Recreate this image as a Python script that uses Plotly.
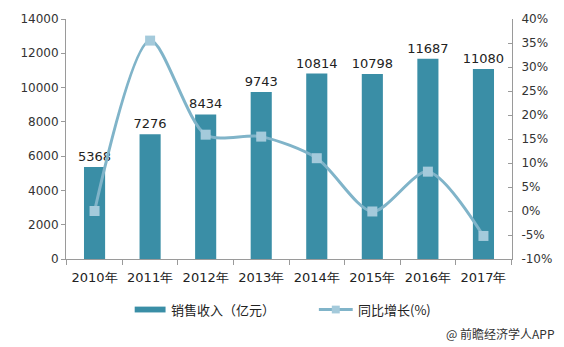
import plotly.graph_objects as go

years = ["2010年", "2011年", "2012年", "2013年", "2014年", "2015年", "2016年", "2017年"]
revenue = [5368, 7276, 8434, 9743, 10814, 10798, 11687, 11080]
growth = [0.0, 35.5, 15.9, 15.5, 11.0, -0.1, 8.2, -5.2]

left_ticks = [0, 2000, 4000, 6000, 8000, 10000, 12000, 14000]
right_ticks = [-10, -5, 0, 5, 10, 15, 20, 25, 30, 35, 40]

bar_name = "销售收入（亿元）"
line_name = "同比增长(%)"
source_note = "@ 前瞻经济学人APP"

num_font = "DejaVu Sans, Verdana, sans-serif"
cjk_font = "Noto Sans CJK SC, sans-serif"
bar_color = "#3a8ea6"
line_color = "#80b4c9"
marker_color = "#a4cadb"
axis_color = "#9a9a9a"

W, H = 564, 347
L, R, T, B = 66, 50, 12, 88
pw, ph = W - L - R, H - T - B


def px(x):
    return (x - L) / pw


def py(y):
    return (H - B - y) / ph


fig = go.Figure()
fig.add_trace(go.Bar(
    x=years, y=revenue, name=bar_name,
    marker=dict(color=bar_color, line=dict(width=0)),
    width=0.38,
    text=[str(v) for v in revenue], textposition="outside",
    constraintext="none",
    textfont=dict(family=num_font, size=13, color="#222222"),
    cliponaxis=False, showlegend=False,
))
fig.add_trace(go.Scatter(
    x=years, y=growth, name=line_name, yaxis="y2",
    mode="lines+markers",
    line=dict(color=line_color, width=3, shape="spline", smoothing=0.8),
    marker=dict(symbol="square", size=10, color=marker_color),
    showlegend=False,
))

shapes = [
    dict(type="rect", xref="paper", yref="paper", x0=px(135), x1=px(166), y0=py(314), y1=py(308),
         fillcolor=bar_color, line=dict(width=0)),
    dict(type="line", xref="paper", yref="paper", x0=px(320), x1=px(354), y0=py(311), y1=py(311),
         line=dict(color=line_color, width=3)),
    dict(type="rect", xref="paper", yref="paper", x0=px(333), x1=px(341), y0=py(315), y1=py(307),
         fillcolor=marker_color, line=dict(width=0)),
]

annotations = [
    dict(text=bar_name, xref="paper", yref="paper", x=px(169), y=py(311),
         xanchor="left", yanchor="middle", showarrow=False,
         font=dict(family=cjk_font, size=13, color="#222222")),
    dict(text=line_name, xref="paper", yref="paper", x=px(357), y=py(311),
         xanchor="left", yanchor="middle", showarrow=False,
         font=dict(family=cjk_font, size=13, color="#222222")),
    dict(text=source_note, xref="paper", yref="paper", x=px(559), y=py(336),
         xanchor="right", yanchor="middle", showarrow=False,
         font=dict(family=cjk_font, size=12, color="#333333")),
]

fig.update_layout(
    width=W, height=H,
    margin=dict(l=L, r=R, t=T, b=B),
    paper_bgcolor="white", plot_bgcolor="white",
    font=dict(family=cjk_font, size=12, color="#333333"),
    showlegend=False,
    xaxis=dict(
        type="category", showgrid=False, showline=True, linecolor=axis_color, linewidth=1,
        ticks="outside", tickson="boundaries", ticklen=5, tickcolor=axis_color,
        ticklabelstandoff=6,
        tickfont=dict(family=num_font, size=13, color="#222222"),
    ),
    yaxis=dict(
        range=[0, 14000], tickvals=left_ticks, ticktext=[str(v) for v in left_ticks],
        showgrid=False, showline=True, linecolor=axis_color, linewidth=1,
        ticks="outside", ticklen=4, tickcolor=axis_color,
        tickfont=dict(family=num_font, size=12, color="#333333"), zeroline=False,
    ),
    yaxis2=dict(
        range=[-10, 40], tickvals=right_ticks, ticktext=[f"{v}%" for v in right_ticks],
        overlaying="y", side="right", showgrid=False, showline=True,
        linecolor=axis_color, linewidth=1, ticks="inside", ticklen=4, tickcolor=axis_color,
        ticklabelstandoff=6,
        tickfont=dict(family=num_font, size=12, color="#333333"), zeroline=False,
    ),
    shapes=shapes,
    annotations=annotations,
)

fig.write_html("out.html")
